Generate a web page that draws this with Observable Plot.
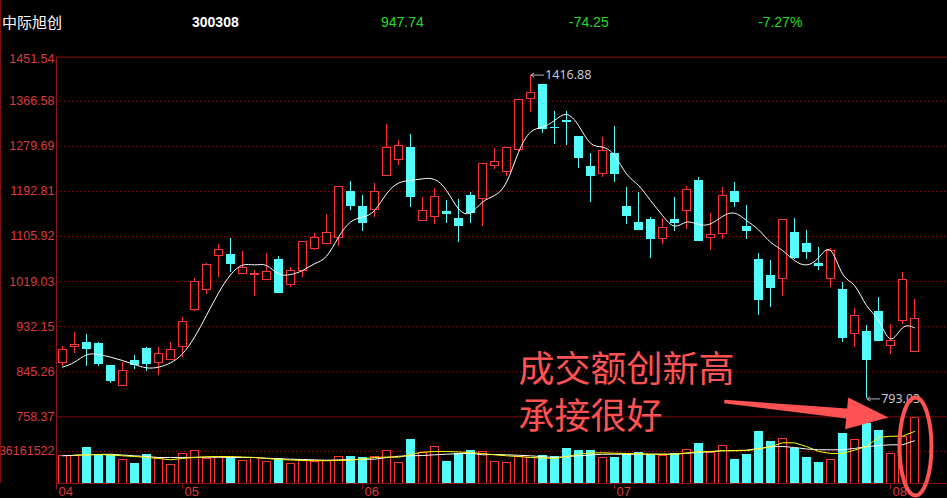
<!DOCTYPE html>
<html><head><meta charset="utf-8">
<script src="https://cdn.jsdelivr.net/npm/d3@7"></script>
<script src="https://cdn.jsdelivr.net/npm/@observablehq/plot@0.6"></script>
<style>
html,body{margin:0;padding:0;background:#000;}
#wrap{position:relative;width:947px;height:498px;background:#000;overflow:hidden;font-family:"Liberation Sans",Arial,sans-serif;}
#wrap svg{position:absolute;left:0;top:0;}
.hd{position:absolute;top:13px;font-size:14px;line-height:18px;white-space:nowrap;z-index:5;}
#lb{position:absolute;left:0;top:0;width:1px;height:483px;background:#7a1010;z-index:5;}
</style></head><body>
<div id="wrap"><div id="lb"></div></div>
<script>
// ---- header ----
const stockName = "中际旭创";
const stockCode = "300308";
const lastPrice = "947.74";
const change = "-74.25";
const changePct = "-7.27%";

// ---- daily candles (index 0..71) ----
const open = [862.5, 893.4, 901.1, 899.1, 855.5, 818.2, 866.4, 890.1, 862.5, 867.7,
892.7, 963.4, 1002.5, 1068.7, 1071.2, 1034.0, 1030.8, 1022.4, 1061.0, 1012.8,
1040.4, 1081.5, 1092.4, 1102.7, 1192.6, 1163.7, 1157.3, 1222.8, 1253.7, 1275.5,
1135.5, 1143.8, 1152.2, 1138.7, 1183.0, 1178.5, 1242.1, 1230.5, 1272.3, 1371.2,
1396.9, 1315.3, 1327.5, 1296.7, 1240.2, 1226.7, 1265.2, 1161.8, 1131.0, 1138.1,
1101.5, 1136.8, 1154.7, 1211.9, 1103.7, 1110.8, 1192.6, 1123.3, 1059.7, 1030.2,
1024.4, 1111.7, 1092.4, 1052.0, 1024.4, 1003.8, 918.4, 921.0, 961.4, 895.3,
943.5, 883.1];
const high = [894.0, 920.3, 916.5, 901.1, 857.0, 862.5, 876.0, 892.0, 892.0, 901.7,
949.2, 1024.4, 1053.9, 1090.5, 1102.7, 1077.0, 1040.4, 1073.2, 1067.4, 1045.6,
1094.4, 1111.1, 1148.3, 1202.3, 1211.9, 1184.9, 1208.0, 1321.7, 1290.9, 1302.5,
1181.1, 1198.4, 1175.3, 1177.2, 1190.7, 1245.9, 1275.5, 1276.8, 1369.2, 1416.88,
1397.5, 1346.8, 1346.8, 1298.6, 1265.9, 1296.0, 1317.2, 1200.4, 1190.1, 1142.5,
1140.6, 1181.1, 1201.6, 1219.6, 1150.6, 1200.4, 1210.0, 1165.7, 1073.2, 1059.7,
1138.0, 1140.0, 1116.9, 1084.7, 1082.2, 1017.9, 967.2, 934.5, 988.4, 936.4,
1037.2, 984.6];
const low = [855.5, 879.9, 856.1, 856.1, 823.4, 818.2, 849.0, 845.2, 838.8, 867.7,
873.5, 961.4, 994.8, 1027.6, 1037.2, 1034.0, 990.0, 1022.4, 996.7, 1008.3,
1027.5, 1079.0, 1090.5, 1087.3, 1156.7, 1116.2, 1143.2, 1222.8, 1243.4, 1162.5,
1135.5, 1129.7, 1131.6, 1095.0, 1131.6, 1124.6, 1235.7, 1221.5, 1270.0, 1345.5,
1303.7, 1283.8, 1281.9, 1237.6, 1172.1, 1220.3, 1210.6, 1129.7, 1118.1, 1063.2,
1091.2, 1116.2, 1120.1, 1097.0, 1079.9, 1100.8, 1162.5, 1100.8, 954.4, 969.8,
991.0, 1062.0, 1061.0, 1040.4, 1007.0, 902.4, 892.7, 793.03, 904.3, 879.2,
937.0, 883.1];
const close = [887.6, 897.2, 888.9, 860.0, 827.2, 847.1, 859.3, 859.9, 879.9, 887.6,
941.5, 1018.6, 1051.3, 1080.2, 1052.6, 1045.6, 1033.4, 1037.8, 996.7, 1039.8,
1094.4, 1103.4, 1113.0, 1200.4, 1164.4, 1131.6, 1192.0, 1276.8, 1280.6, 1181.7,
1155.4, 1181.1, 1149.0, 1125.9, 1150.9, 1245.9, 1249.8, 1276.8, 1369.2, 1382.7,
1313.4, 1314.7, 1326.2, 1256.9, 1222.2, 1271.0, 1226.0, 1145.1, 1118.1, 1100.8,
1122.6, 1131.6, 1195.8, 1097.0, 1109.4, 1184.3, 1172.1, 1116.2, 983.3, 1006.4,
1138.0, 1064.2, 1075.8, 1048.8, 1078.3, 910.1, 953.1, 867.7, 904.3, 904.9,
1021.99, 947.74];
// price moving average (white line)
const priceMA = [854.2, 863.8, 877.9, 878.6, 873.5, 867.0, 859.3, 852.9, 854.2, 862.5,
879.9, 912.0, 954.0, 997.0, 1032.0, 1050.7, 1051.3, 1050.0, 1034.0, 1032.7,
1040.4, 1053.3, 1068.0, 1104.6, 1133.6, 1143.2, 1156.0, 1188.1, 1208.7, 1213.8,
1217.0, 1215.7, 1194.6, 1159.3, 1151.5, 1172.1, 1184.9, 1210.6, 1268.0, 1307.0,
1316.6, 1329.4, 1341.0, 1319.8, 1285.8, 1278.1, 1262.0, 1226.7, 1204.2, 1175.3,
1146.4, 1125.9, 1133.6, 1129.1, 1130.3, 1144.5, 1150.9, 1136.8, 1118.8, 1095.0,
1079.0, 1059.7, 1051.3, 1064.8, 1079.0, 1034.0, 1011.5, 973.0, 944.1, 908.8,
930.0, 930.0];

// ---- volume (millions of shares) ----
const volume = [30.8, 30.8, 40.3, 32.4, 31.3, 26.3, 22.3, 32.4, 29.0, 21.1,
33.6, 36.5, 27.9, 30.5, 28.6, 25.7, 28.6, 24.5, 27.5, 22.3,
25.7, 24.1, 25.2, 29.7, 30.2, 29.0, 29.4, 36.5, 23.4, 49.4,
35.0, 41.0, 24.5, 33.6, 37.0, 35.4, 24.5, 23.4, 29.7, 29.0,
30.8, 29.4, 39.2, 37.0, 37.0, 28.6, 29.0, 32.4, 35.0, 32.4,
30.8, 33.1, 37.6, 44.9, 35.0, 42.1, 26.8, 32.4, 58.4, 47.1,
50.1, 39.2, 29.0, 23.4, 26.8, 56.2, 48.9, 67.0, 59.6, 33.1,
52.0, 73.8];
const volMaYellow = [null, 32.0, 32.2, 32.8, 32.2, 31.3, 30.5, 29.4, 28.3, 26.8,
28.3, 29.4, 30.2, 30.5, 30.5, 29.9, 29.4, 28.3, 27.1, 26.6,
26.0, 25.8, 25.7, 26.0, 26.3, 27.7, 29.4, 29.9, 29.7, 32.8,
35.4, 36.2, 36.2, 35.6, 35.0, 33.9, 32.4, 31.3, 30.5, 29.4,
28.8, 28.3, 30.5, 33.1, 34.5, 34.7, 34.2, 33.9, 33.6, 33.1,
33.1, 33.1, 34.5, 35.8, 36.2, 37.0, 37.0, 37.3, 39.0, 41.5,
46.0, 46.0, 41.8, 36.2, 33.9, 33.9, 37.6, 41.8, 52.0, 53.4,
53.4, 58.8];
const volMaWhite = [31.3, 31.9, 32.4, 32.8, 33.1, 32.2, 31.3, 30.5, 29.4, 29.4,
29.4, 29.6, 29.7, 29.6, 29.4, 29.4, 29.4, 28.6, 27.9, 27.5,
27.1, 26.7, 26.3, 26.7, 27.1, 27.3, 27.5, 29.2, 30.8, 31.3,
31.6, 32.4, 33.1, 33.7, 34.2, 32.4, 32.8, 32.4, 31.9, 31.3,
30.3, 29.4, 30.3, 31.3, 32.2, 33.1, 33.1, 33.1, 33.1, 33.1,
33.1, 33.1, 34.1, 35.0, 35.9, 37.0, 37.3, 37.6, 39.6, 41.5,
41.8, 40.7, 39.0, 38.1, 38.1, 38.1, 39.6, 41.5, 42.9, 43.7,
43.7, 48.3];
const volRefValue = 36.161522;
const volRefLabel = "36161522";

// ---- axes ----
const priceTicks = [758.37, 845.26, 932.15, 1019.03, 1105.92, 1192.81, 1279.69, 1366.58, 1451.54];
const monthIndex = [-0.5, 10, 25, 46, 69];
const monthLabels = ["04", "05", "06", "07", "08"];

// ---- annotations ----
const annLines = ["成交额创新高", "承接很好"];
const annLineIndex = [38.0, 38.0];
const annLineValue = [847.7, 757.2];
const arrowTip = {i: 68.83, v: 757.2};
const ellipseCenter = {i: 71.08, v: 701.3};
const highMark = {i: 39, v: 1416.88};
const lowMark = {i: 67, v: 793.03};

// ---- styling ----
const RED = "#ff3434", CYAN = "#54fcfc", GRID = "#9c0c0c", AXIS = "#8a1414", LBL = "#dd3b3b";
const ANN = "#ff5252", GREEN = "#22dd22";
const W = 947, H = 498, XDOM = [-0.5, 73.75];
const AXFONT = "'Liberation Sans',Arial,sans-serif";

// header
const wrap = document.getElementById("wrap");
[[stockName, 2, "#fff", "normal", 15, "'Noto Sans CJK SC',sans-serif"],
 [stockCode, 192, "#fff", "bold", 14],
 [lastPrice, 381, GREEN, "normal", 14],
 [change, 569, GREEN, "normal", 14],
 [changePct, 758, GREEN, "normal", 14]].forEach(([t, left, col, fw, fs, ff]) => {
  const s = document.createElement("div");
  s.className = "hd"; s.textContent = t;
  s.style.left = left + "px"; s.style.color = col; s.style.fontWeight = fw; s.style.fontSize = fs + "px";
  if (ff) s.style.fontFamily = ff;
  wrap.appendChild(s);
});

const candles = open.map((o, i) => ({i, o, h: high[i], l: low[i], c: close[i], ma: priceMA[i], vol: volume[i], up: close[i] >= open[i]}));
const ups = candles.filter(d => d.up), downs = candles.filter(d => !d.up);
const BW = 0.375;

// volume panel (below)
const volPlot = Plot.plot({
  width: W, height: H, marginLeft: 56, marginRight: 0, marginTop: 412.2, marginBottom: 15,
  style: {background: "#000"},
  x: {domain: XDOM, axis: null},
  y: {domain: [0, 80], axis: null},
  marks: [
    Plot.ruleY([volRefValue], {stroke: GRID, strokeDasharray: "1.5,2.5"}),
    Plot.rect(ups, {x1: d => d.i - BW, x2: d => d.i + BW, y1: 0, y2: "vol", fill: "#000", stroke: RED, insetLeft: 0.5, insetRight: 0.5, shapeRendering: "crispEdges"}),
    Plot.rect(downs, {x1: d => d.i - BW, x2: d => d.i + BW, y1: 0, y2: "vol", fill: CYAN, stroke: CYAN, insetLeft: 0.5, insetRight: 0.5, shapeRendering: "crispEdges"}),
    Plot.line(volMaWhite.map((v, i) => ({i, v})), {x: "i", y: "v", stroke: "#fff", strokeWidth: 1}),
    Plot.line(volMaYellow.map((v, i) => ({i, v})).filter(d => d.v != null), {x: "i", y: "v", stroke: "#ffff00", strokeWidth: 1}),
    Plot.text([volRefValue], {x: XDOM[0], y: d => d, text: () => volRefLabel, textAnchor: "end", dx: -2, fill: LBL, fontSize: 12.5, fontFamily: AXFONT}),
    Plot.ruleY([0], {stroke: AXIS}),
    Plot.frame({anchor: "left", stroke: AXIS}),
    Plot.ruleX(monthIndex, {x: d => d, y1: 0, y2: -7, stroke: AXIS}),
    Plot.text(monthIndex, {x: d => d, y: -9.5, text: (d, k) => monthLabels[k], textAnchor: "start", dx: 2, fill: LBL, fontSize: 13, fontFamily: AXFONT})
  ]
});
wrap.appendChild(volPlot);

// ellipse / arrow symbols (pixel shapes anchored at data points)
const th = Math.atan2(16, 164), ct = Math.cos(th), st = Math.sin(th);
const arrowShape = [[0, 0], [-42, -16], [-42, -5], [-165, -1.7], [-165, 1.7], [-42, 5], [-42, 16]];
const arrowSymbol = {draw(ctx) {
  arrowShape.forEach(([u, w], k) => { const px = u * ct - w * st, py = u * st + w * ct; k ? ctx.lineTo(px, py) : ctx.moveTo(px, py); });
  ctx.closePath();
}};
const ellipseSymbol = {draw(ctx) {
  const rx = 16, ry = 49, k = 0.5523;
  ctx.moveTo(rx, 0);
  ctx.bezierCurveTo(rx, ry * k, rx * k, ry, 0, ry);
  ctx.bezierCurveTo(-rx * k, ry, -rx, ry * k, -rx, 0);
  ctx.bezierCurveTo(-rx, -ry * k, -rx * k, -ry, 0, -ry);
  ctx.bezierCurveTo(rx * k, -ry, rx, -ry * k, rx, 0);
  ctx.closePath();
}};

// price panel (on top)
const pricePlot = Plot.plot({
  width: W, height: H, marginLeft: 56, marginRight: 0, marginTop: 56.6, marginBottom: 81.6,
  style: {background: "transparent"},
  x: {domain: XDOM, axis: null},
  y: {domain: [758.37, 1451.54], axis: null},
  marks: [
    Plot.ruleY(priceTicks.slice(1, -1), {stroke: GRID, strokeDasharray: "1.5,2.5"}),
    Plot.ruleY([priceTicks[0]], {stroke: "#7a0e0e"}),
    Plot.ruleY([priceTicks[priceTicks.length - 1]], {stroke: AXIS}),
    Plot.frame({anchor: "left", stroke: AXIS}),
    Plot.text(priceTicks.slice(0, -1), {x: XDOM[0], y: d => d, text: d => d.toFixed(2), textAnchor: "end", dx: -2, fill: LBL, fontSize: 12.5, fontFamily: AXFONT}),
    Plot.text(priceTicks.slice(-1), {x: XDOM[0], y: d => d, text: d => d.toFixed(2), textAnchor: "end", dx: -2, dy: 2, fill: LBL, fontSize: 12.5, fontFamily: AXFONT}),
    Plot.ruleX(ups, {x: "i", y1: "l", y2: "h", stroke: RED, shapeRendering: "crispEdges"}),
    Plot.ruleX(downs, {x: "i", y1: "l", y2: "h", stroke: CYAN, shapeRendering: "crispEdges"}),
    Plot.rect(ups, {x1: d => d.i - BW, x2: d => d.i + BW, y1: "o", y2: "c", fill: "#000", stroke: RED, insetLeft: 0.5, insetRight: 0.5, shapeRendering: "crispEdges"}),
    Plot.rect(downs, {x1: d => d.i - BW, x2: d => d.i + BW, y1: "o", y2: "c", fill: CYAN, stroke: CYAN, insetLeft: 0.5, insetRight: 0.5, shapeRendering: "crispEdges"}),
    Plot.line(candles, {x: "i", y: "ma", stroke: "#fff", strokeWidth: 1, curve: "natural"}),
    // high / low markers
    Plot.arrow([highMark, lowMark], {x1: d => d.i + 1.1, x2: d => d.i + 0.05, y1: "v", y2: "v", stroke: "#b4b8bc", strokeWidth: 1, headLength: 5, headAngle: 70}),
    Plot.text([highMark, lowMark], {x: d => d.i + 1.22, y: "v", text: d => d.v.toFixed(2), textAnchor: "start", fill: "#c4cad2", fontSize: 12.5}),
    // annotation
    Plot.text(annLines, {x: (d, k) => annLineIndex[k], y: (d, k) => annLineValue[k], text: d => d, textAnchor: "start", lineAnchor: "middle", fill: ANN, fontSize: 36, fontFamily: "'Noto Sans CJK SC',sans-serif"}),
    Plot.dot([arrowTip], {x: "i", y: "v", symbol: arrowSymbol, fill: ANN, stroke: "none"}),
    Plot.dot([ellipseCenter], {x: "i", y: "v", symbol: ellipseSymbol, fill: "none", stroke: ANN, strokeWidth: 4})
  ]
});
wrap.appendChild(pricePlot);
</script>
</body></html>
